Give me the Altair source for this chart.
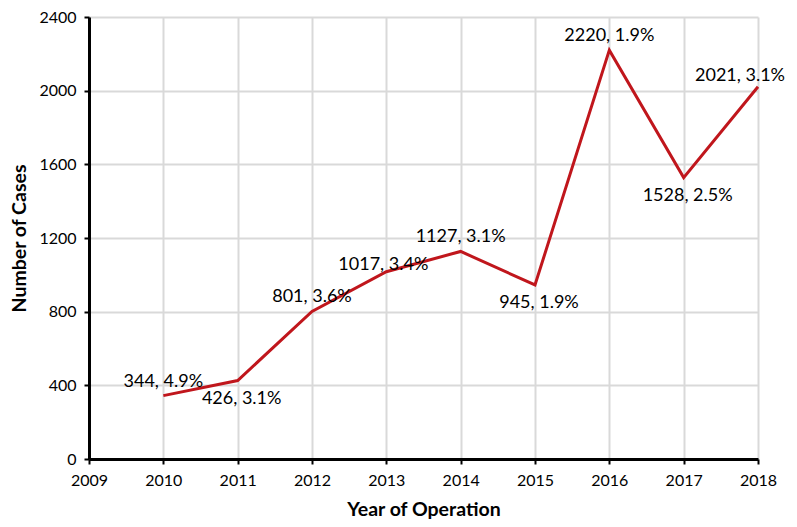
import altair as alt
import pandas as pd

years = [2010, 2011, 2012, 2013, 2014, 2015, 2016, 2017, 2018]
cases = [344, 426, 801, 1017, 1127, 945, 2220, 1528, 2021]
rates = ["4.9%", "3.1%", "3.6%", "3.4%", "3.1%", "1.9%", "1.9%", "2.5%", "3.1%"]
placement = ["above", "below", "above", "near", "above", "below", "above", "below", "end"]

df = pd.DataFrame({"year": years, "cases": cases, "rate": rates, "place": placement})
df["label"] = df["cases"].astype(str) + ", " + df["rate"]

FONT = "Lato"
RED = "#C0161C"

x = alt.X("year:Q", title="Year of Operation",
          scale=alt.Scale(domain=[2009, 2018], nice=False, zero=False),
          axis=alt.Axis(values=list(range(2009, 2019)), format="d", labelFlush=False,
                        labelFontSize=16, titleFontSize=19.5, titleFont=FONT, labelFont=FONT,
                        titleFontWeight="bold", titlePadding=12, labelPadding=8))
y = alt.Y("cases:Q", title="Number of Cases",
          scale=alt.Scale(domain=[0, 2400], nice=False),
          axis=alt.Axis(values=list(range(0, 2401, 400)), format="d", labelFlush=False,
                        labelFontSize=16, titleFontSize=19.5, titleFont=FONT, labelFont=FONT,
                        titleFontWeight="bold", titlePadding=9, labelPadding=8))

base = alt.Chart(df)
line = base.mark_line(color=RED, strokeWidth=3).encode(x=x, y=y)

def labels(place, dx, dy):
    return base.transform_filter(alt.datum.place == place).mark_text(
        font=FONT, fontSize=18, dx=dx, dy=dy, color="black"
    ).encode(x="year:Q", y="cases:Q", text="label:N")

chart = alt.layer(
    line,
    labels("above", 0, -14),
    labels("below", 4, 18),
    labels("near", -3, -7),
    labels("end", -18, -11),
).properties(
    width=669, height=442,
    autosize=alt.AutoSizeParams(type="none"),
    padding={"left": 81, "top": 9, "right": 30, "bottom": 60},
).configure_view(stroke=None).configure_axis(
    domainColor="black", domainWidth=3, tickColor="black", tickWidth=2, tickSize=5,
    gridColor="#D9D9D9", gridWidth=2, labelColor="black", titleColor="black",
)

chart.save("out.html", embed_options={"renderer": "svg", "actions": False})
